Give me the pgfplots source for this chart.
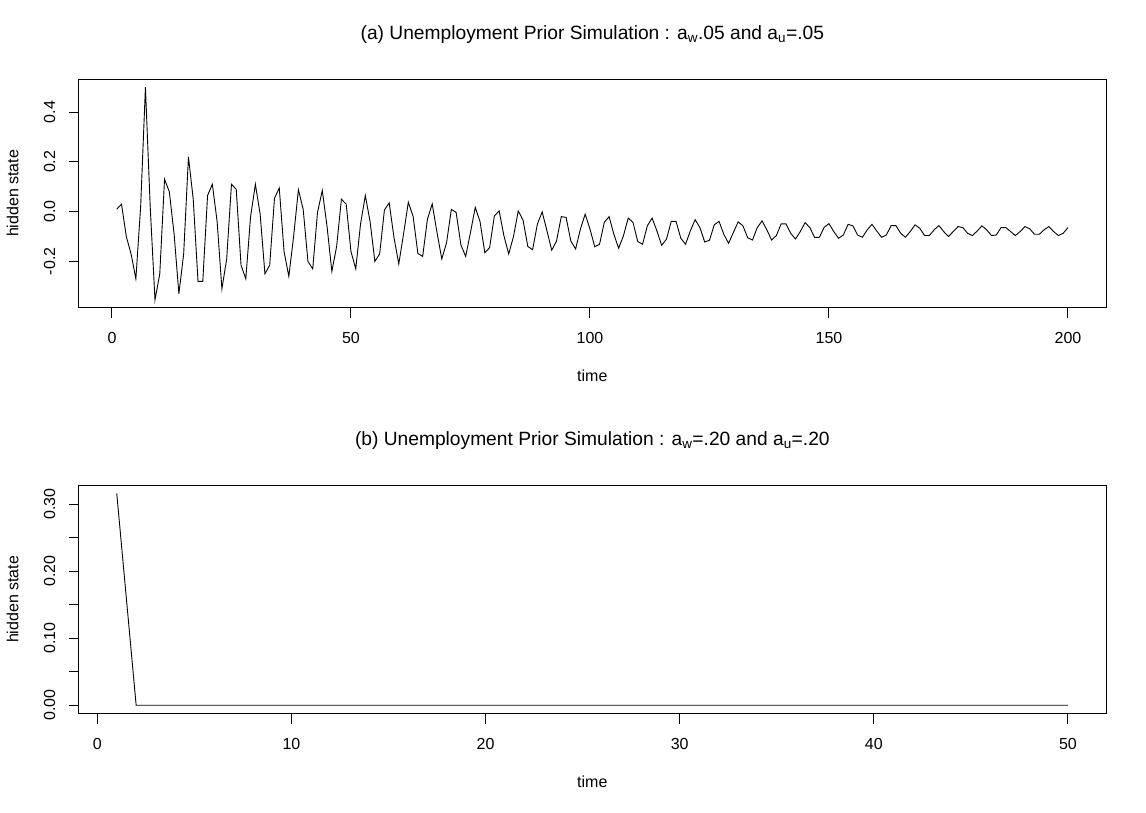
\documentclass[border=0pt]{standalone}
\usepackage{fontspec}
\setmainfont{Liberation Sans}
\usepackage{pgfplots}
\pgfplotsset{compat=1.18}
\usepackage{pgfplotstable}

% hidden state, prior simulation with a_w = a_u = .05
\pgfplotstableread{
t v
1 0.01
2 0.03
3 -0.10
4 -0.17
5 -0.27
6 0.02
7 0.50
8 0.02
9 -0.355
10 -0.25
11 0.13
12 0.08
13 -0.09
14 -0.33
15 -0.17
16 0.22
17 0.05
18 -0.28
19 -0.28
20 0.065
21 0.11
22 -0.04
23 -0.31
24 -0.19
25 0.11
26 0.09
27 -0.215
28 -0.27
29 -0.02
30 0.11
31 -0.01
32 -0.25
33 -0.215
34 0.054
35 0.095
36 -0.16
37 -0.26
38 -0.10
39 0.088
40 0.01
41 -0.20
42 -0.23
43 -0.003
44 0.085
45 -0.06
46 -0.24
47 -0.14
48 0.05
49 0.03
50 -0.16
51 -0.23
52 -0.05
53 0.065
54 -0.04
55 -0.20
56 -0.17
57 0.007
58 0.035
59 -0.104
60 -0.21
61 -0.09
62 0.038
63 -0.019
64 -0.168
65 -0.18
66 -0.03
67 0.031
68 -0.084
69 -0.19
70 -0.125
71 0.009
72 -0.003
73 -0.134
74 -0.18
75 -0.084
76 0.017
77 -0.04
78 -0.165
79 -0.145
80 -0.017
81 0.003
82 -0.097
83 -0.17
84 -0.10
85 0.003
86 -0.034
87 -0.14
88 -0.153
89 -0.05
90 -0.001
91 -0.077
92 -0.155
93 -0.118
94 -0.02
95 -0.023
96 -0.118
97 -0.15
98 -0.07
99 -0.01
100 -0.070
101 -0.141
102 -0.131
103 -0.043
104 -0.020
105 -0.091
106 -0.147
107 -0.097
108 -0.026
109 -0.043
110 -0.120
111 -0.131
112 -0.057
113 -0.026
114 -0.077
115 -0.135
116 -0.111
117 -0.039
118 -0.039
119 -0.107
120 -0.131
121 -0.077
122 -0.032
123 -0.064
124 -0.122
125 -0.115
126 -0.053
127 -0.039
128 -0.091
129 -0.127
130 -0.084
131 -0.041
132 -0.057
133 -0.105
134 -0.114
135 -0.064
136 -0.037
137 -0.073
138 -0.114
139 -0.096
140 -0.049
141 -0.049
142 -0.087
143 -0.110
144 -0.080
145 -0.044
146 -0.064
147 -0.104
148 -0.103
149 -0.063
150 -0.048
151 -0.080
152 -0.107
153 -0.094
154 -0.051
155 -0.057
156 -0.094
157 -0.103
158 -0.073
159 -0.051
160 -0.078
161 -0.103
162 -0.094
163 -0.056
164 -0.056
165 -0.087
166 -0.103
167 -0.080
168 -0.053
169 -0.067
170 -0.096
171 -0.096
172 -0.073
173 -0.056
174 -0.080
175 -0.100
176 -0.080
177 -0.060
178 -0.064
179 -0.087
180 -0.096
181 -0.078
182 -0.057
183 -0.073
184 -0.096
185 -0.094
186 -0.064
187 -0.064
188 -0.080
189 -0.096
190 -0.080
191 -0.060
192 -0.069
193 -0.091
194 -0.091
195 -0.073
196 -0.060
197 -0.080
198 -0.096
199 -0.087
200 -0.064
}\simA

% hidden state, prior simulation with a_w = a_u = .20
\pgfplotstableread{
t v
1 0.316
2 0
3 0
4 0
5 0
6 0
7 0
8 0
9 0
10 0
11 0
12 0
13 0
14 0
15 0
16 0
17 0
18 0
19 0
20 0
21 0
22 0
23 0
24 0
25 0
26 0
27 0
28 0
29 0
30 0
31 0
32 0
33 0
34 0
35 0
36 0
37 0
38 0
39 0
40 0
41 0
42 0
43 0
44 0
45 0
46 0
47 0
48 0
49 0
50 0
}\simB

\pgfplotsset{
  rplot/.style={
    scale only axis, width=1027.3pt, height=228.7pt,
    axis line style={line width=1pt},
    tick align=outside, major tick length=10pt,
    tick style={black, line width=1pt},
    xtick pos=bottom, ytick pos=left,
    tick label style={font=\fontsize{16}{19}\selectfont, inner sep=0pt},
    xticklabel style={anchor=base, yshift=-25.6pt},
    yticklabel style={xshift=-13.7pt, rotate=90, anchor=base},
    title style={at={(axis description cs:0.5,1)}, anchor=base, yshift=34pt,
      font=\fontsize{19.2}{23}\selectfont, inner sep=0pt},
    xlabel style={at={(axis description cs:0.5,0)}, anchor=base, yshift=-74pt,
      font=\fontsize{16}{19}\selectfont, inner sep=0pt},
    ylabel style={at={(axis description cs:-0.0588,0.5)}, anchor=base, rotate=0,
      font=\fontsize{16}{19}\selectfont, inner sep=0pt},
    xlabel={time}, ylabel={hidden state},
  }
}

\begin{document}
\begin{tikzpicture}
\path[use as bounding box, fill=white] (0pt,0pt) rectangle (1146pt,-812pt);

\begin{axis}[rplot, at={(78.7pt,-79pt)}, anchor=north west,
  xmin=-6.96, xmax=207.96, ymin=-0.386, ymax=0.533,
  xtick={0,50,100,150,200}, xticklabels={0,50,100,150,200},
  ytick={-0.2,0,0.2,0.4}, yticklabels={-0.2,0.0,0.2,0.4},
  title={(a) Unemployment Prior Simulation : a\textsubscript{w}.05 and a\textsubscript{u}=.05}]
  \addplot[black, line width=0.9pt, mark=none] table[x=t, y=v] {\simA};
\end{axis}

\begin{axis}[rplot, at={(78.7pt,-485pt)}, anchor=north west,
  xmin=-0.96, xmax=51.96, ymin=-0.0126, ymax=0.3286,
  xtick={0,10,20,30,40,50}, xticklabels={0,10,20,30,40,50},
  ytick={0,0.05,0.1,0.15,0.2,0.25,0.3}, yticklabels={0.00,,0.10,,0.20,,0.30},
  title={(b) Unemployment Prior Simulation : a\textsubscript{w}=.20 and a\textsubscript{u}=.20}]
  \addplot[black, line width=0.9pt, mark=none] table[x=t, y=v] {\simB};
\end{axis}
\end{tikzpicture}
\end{document}
